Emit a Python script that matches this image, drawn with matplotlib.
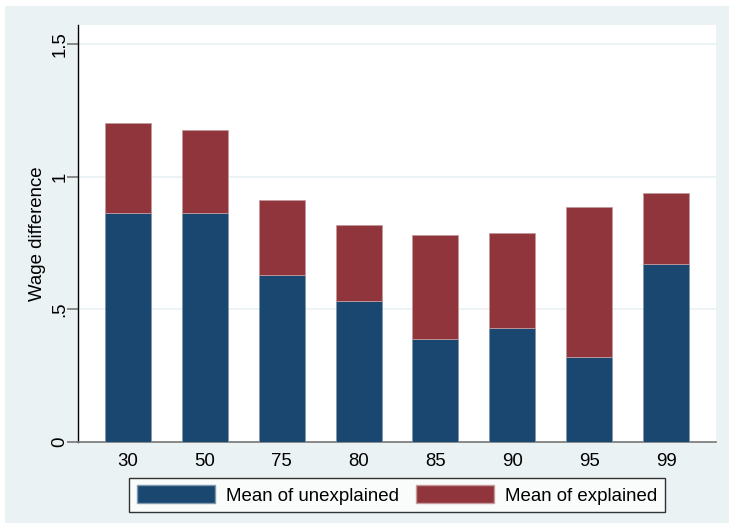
import numpy as np
import matplotlib
matplotlib.use("Agg")
import matplotlib.pyplot as plt
from matplotlib.patches import Rectangle, Patch

plt.rcParams['font.family'] = ['Liberation Sans', 'DejaVu Sans']

categories = ["30", "50", "75", "80", "85", "90", "95", "99"]
unexplained = [0.864, 0.864, 0.630, 0.532, 0.389, 0.430, 0.321, 0.672]
total = [1.204, 1.174, 0.913, 0.819, 0.781, 0.789, 0.887, 0.940]
explained = [t - u for t, u in zip(total, unexplained)]

blue = "#1a476f"
red = "#90353b"
bg = "#eaf2f3"
fs = 13.4

fig = plt.figure(figsize=(7.29, 5.23), dpi=100, facecolor="white")
fig.patches.append(Rectangle((5 / 729, 0), 1, (523 - 6) / 523, transform=fig.transFigure,
                             facecolor=bg, edgecolor="none", zorder=-10))

ax = fig.add_axes([78 / 729, (523 - 442) / 523, (716 - 78) / 729, (442 - 25) / 523])
ax.set_facecolor("white")

x = np.arange(len(categories))
ax.bar(x, unexplained, width=0.6, color=blue, edgecolor="#7f98ad", linewidth=0.6, zorder=3)
ax.bar(x, explained, width=0.6, bottom=unexplained, color=red, edgecolor="#c49a9d",
       linewidth=0.6, zorder=3)

ax.set_xlim(-0.65, 7.65)
ax.set_ylim(0, 1.5 * (442 - 25) / (442 - 44))
ax.set_yticks([0, 0.5, 1, 1.5])
ax.set_yticklabels(["0", ".5", "1", "1.5"], rotation=90, va="center", fontsize=fs)
ax.set_xticks(x)
ax.set_xticklabels(categories, fontsize=fs)
ax.tick_params(axis="x", length=0, pad=8)
ax.tick_params(axis="y", length=8, width=1.2, color="#777777", pad=-1)
ax.yaxis.grid(True, color=bg, linewidth=1.3, zorder=0)
ax.set_axisbelow(True)

ax.spines["top"].set_visible(False)
ax.spines["right"].set_visible(False)
ax.spines["left"].set_color("black")
ax.spines["left"].set_linewidth(1.0)
ax.spines["bottom"].set_color("#777777")
ax.spines["bottom"].set_linewidth(1.2)

ax.set_ylabel("Wage difference", fontsize=fs, labelpad=4)

handles = [Patch(facecolor=blue, edgecolor="#7f98ad", label="Mean of unexplained"),
           Patch(facecolor=red, edgecolor="#c49a9d", label="Mean of explained")]
leg = fig.legend(handles=handles, loc="center", bbox_to_anchor=(397 / 729, (523 - 495) / 523),
                 ncol=2, fontsize=fs, frameon=True, fancybox=False, edgecolor="black",
                 handlelength=4.2, handleheight=1.1, columnspacing=0.9, handletextpad=0.6,
                 borderpad=0.4)
leg.get_frame().set_linewidth(1.0)
leg.get_frame().set_facecolor("white")

plt.savefig("out.png", dpi=100, facecolor=fig.get_facecolor())
